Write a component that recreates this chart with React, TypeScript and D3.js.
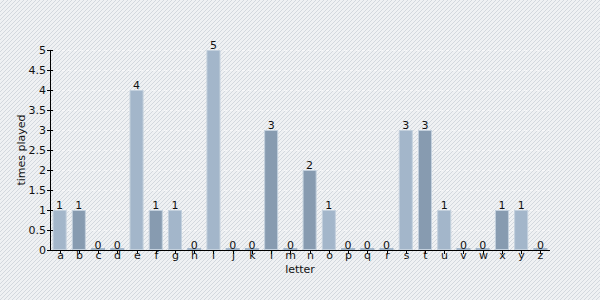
import React from "react";
import * as d3 from "d3";

const letters = ["a","b","c","d","e","f","g","h","i","j","k","l","m","n","o","p","q","r","s","t","u","v","w","x","y","z"];
const timesPlayed = [1,1,0,0,4,1,1,0,5,0,0,3,0,2,1,0,0,0,3,3,1,0,0,1,1,0];
const yTicks = [0,0.5,1,1.5,2,2.5,3,3.5,4,4.5,5];
const xTitle = "letter";
const yTitle = "times played";

const W = 600, H = 300;
const M = { left: 50, right: 50, top: 50, bottom: 50 };
const FONT = "DejaVu Sans, Verdana, sans-serif";
const FS = 11;

export default function App() {
  const x = d3.scaleBand<string>().domain(letters).range([M.left, W - M.right]).paddingInner(0.27).paddingOuter(0.135);
  const y = d3.scaleLinear().domain([0, 5]).range([H - M.bottom, M.top]);
  const light = "#a3b6ca";
  const dark = "#879bb0";
  return (
    <svg width={W} height={H} style={{ position: "absolute", left: 0, top: 0 }}>
      <defs>
        <pattern id="stripes" width="4" height="4" patternUnits="userSpaceOnUse">
          <rect width="4" height="4" fill="#eff1f3" />
          <path d="M-1,1 L1,-1 M0,4 L4,0 M3,5 L5,3" stroke="#d3d8de" strokeWidth="1" />
        </pattern>
      </defs>
      <rect width={W} height={H} fill="url(#stripes)" />
      {yTicks.map((t) => (
        <line key={"g" + t} x1={M.left} x2={W - M.right} y1={y(t) + 0.5} y2={y(t) + 0.5} stroke="#ffffff" strokeOpacity={0.6} strokeDasharray="3,3" />
      ))}
      {letters.map((l, i) => {
        const v = timesPlayed[i];
        const x0 = x(l)!;
        const bw = x.bandwidth();
        const fill = i % 2 === 0 ? light : dark;
        const top = y(v);
        const h = Math.max(y(0) - top, 0);
        return (
          <g key={l}>
            {v > 0 ? (
              <rect x={x0 + 0.5} y={top + 0.5} width={bw - 1} height={h - 1} fill={fill} stroke="#c3d0dd" strokeWidth={1} />
            ) : (
              <rect x={x0} y={y(0) - 2} width={bw} height={2} fill={light} />
            )}
            <text x={x0 + bw / 2} y={top - 1.5} textAnchor="middle" fontFamily={FONT} fontSize={FS} fill="#111">{v}</text>
          </g>
        );
      })}
      <line x1={M.left} x2={W - M.right} y1={y(0) + 0.5} y2={y(0) + 0.5} stroke="#000" />
      <line x1={M.left + 0.5} x2={M.left + 0.5} y1={y(5)} y2={y(0)} stroke="#000" />
      {yTicks.map((t) => (
        <g key={"t" + t}>
          <line x1={M.left - 3} x2={M.left + 3} y1={y(t) + 0.5} y2={y(t) + 0.5} stroke="#000" />
          <text x={M.left - 4} y={y(t)} dy="0.35em" textAnchor="end" fontFamily={FONT} fontSize={FS} fill="#111">{t}</text>
        </g>
      ))}
      {letters.map((l) => {
        const cx = Math.round(x(l)! + x.bandwidth() / 2) + 0.5;
        return (
          <g key={"x" + l}>
            <line x1={cx} x2={cx} y1={y(0)} y2={y(0) + 4} stroke="#000" />
            <text x={cx} y={y(0) + 9} textAnchor="middle" fontFamily={FONT} fontSize={FS} fill="#111">{l}</text>
          </g>
        );
      })}
      <text x={(M.left + W - M.right) / 2} y={H - 27} textAnchor="middle" fontFamily={FONT} fontSize={FS} fill="#111">{xTitle}</text>
      <text transform={`translate(25,${(M.top + H - M.bottom) / 2}) rotate(-90)`} textAnchor="middle" fontFamily={FONT} fontSize={FS} fill="#111">{yTitle}</text>
    </svg>
  );
}
